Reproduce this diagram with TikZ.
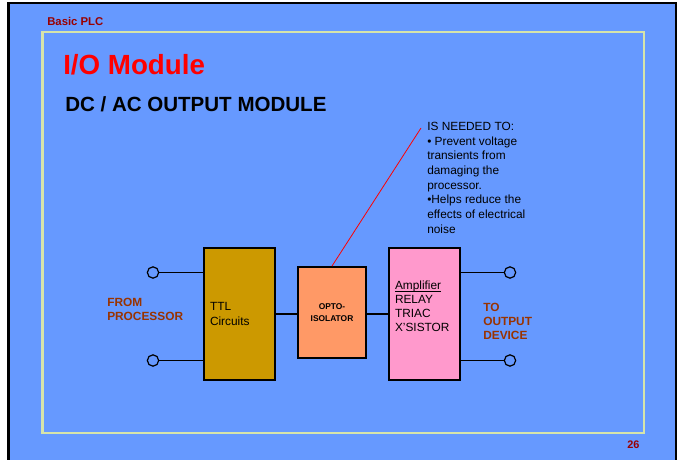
\documentclass[tikz,border=0pt]{standalone}
\usepackage{fontspec}
\setmainfont{Liberation Sans}
\definecolor{slidefill}{RGB}{102,153,255}
\definecolor{rulegreen}{RGB}{214,228,170}
\definecolor{ttlfill}{RGB}{204,153,0}
\definecolor{optofill}{RGB}{255,153,102}
\definecolor{ampfill}{RGB}{255,153,204}
\definecolor{sigbrown}{RGB}{153,51,0}
\definecolor{hdrred}{RGB}{153,0,0}
\tikzset{
  block/.style ={draw, line width=1.4pt, inner sep=4.5pt, minimum height=99pt, align=left, font=\fontsize{8.9}{10.6}\selectfont},
  term/.style  ={draw, circle, line width=0.9pt, minimum size=8.5pt, inner sep=0pt},
  wire/.style  ={line width=0.9pt},
  sig/.style   ={font=\fontsize{8.9}{10.5}\selectfont\bfseries, text=sigbrown, align=left, inner sep=0pt},
  head/.style  ={font=\bfseries, inner sep=0pt, anchor=base west}
}
\newcommand{\ulword}[1]{\sbox0{#1}\rlap{\rule[-2.2pt]{\wd0}{0.6pt}}\usebox0}

\begin{document}
\begin{tikzpicture}[x=0.75pt,y=-0.75pt]
  \useasboundingbox (0,0) rectangle (686,460);
  \fill[white] (0,0) rectangle (686,460);
  \draw[line width=2.2pt, fill=slidefill] (8.5,3) rectangle (676,470);
  \draw[rulegreen, line width=2pt] (42.5,32) rectangle (644,433);
  \node[head, text=hdrred, font=\fontsize{8.5}{10}\selectfont\bfseries] (hdr) at (47,26) {Basic PLC};
  \node[head, text=red, font=\fontsize{20.8}{24}\selectfont\bfseries] (title) at (63,75) {I/O Module};
  \node[head, font=\fontsize{15.4}{18}\selectfont\bfseries] (sub) at (65,112) {DC / AC OUTPUT MODULE};
  \node[head, text=hdrred, font=\fontsize{8.2}{10}\selectfont\bfseries] (pgno) at (627,448) {26};
  % the three stages
  \node[block, fill=ttlfill, text width=44.25pt] (ttl) at (239.5,314) {TTL\\Circuits};
  \node[block, fill=optofill, minimum width=51pt, minimum height=68.25pt, align=center,
        font=\fontsize{6.3}{8.5}\selectfont\bfseries] (opto) at (332,312.5) {OPTO-\\ISOLATOR};
  \node[block, fill=ampfill, text width=44.25pt] (amp) at (424.5,314)
        {\ulword{Amplifier}\\RELAY\\TRIAC\\X'SISTOR\rule[-12pt]{0pt}{0pt}};
  \node[term] (in1)  at (153,272.5) {};
  \node[term] (in2)  at (153,360.5) {};
  \node[term] (out1) at (510,272.5) {};
  \node[term] (out2) at (510,360.5) {};
  \node[sig, anchor=north west] (from) at (107,297.5) {FROM\\PROCESSOR};
  \node[sig, anchor=north west] (to) at (483,302.5) {TO\\OUTPUT\\DEVICE};
  \node[anchor=north west, align=left, inner xsep=4.5pt, inner ysep=0pt,
        font=\fontsize{8.9}{11}\selectfont] (note) at (421,122)
        {IS NEEDED TO:\\\textbullet{} Prevent voltage\\transients from\\damaging the\\processor.\\\textbullet Helps reduce the\\effects of electrical\\noise};
  \draw[wire] (in1) -- (in1 -| ttl.west);
  \draw[wire] (in2) -- (in2 -| ttl.west);
  \draw[wire] (ttl.east) -- (ttl.east -| opto.west);
  \draw[wire] (amp.west -| opto.east) -- (amp.west);
  \draw[wire] (out1 -| amp.east) -- (out1);
  \draw[wire] (out2 -| amp.east) -- (out2);
  \draw[red, line width=0.6pt] (opto.north) -- ([yshift=-4.5pt]note.north west);
\end{tikzpicture}
\end{document}
